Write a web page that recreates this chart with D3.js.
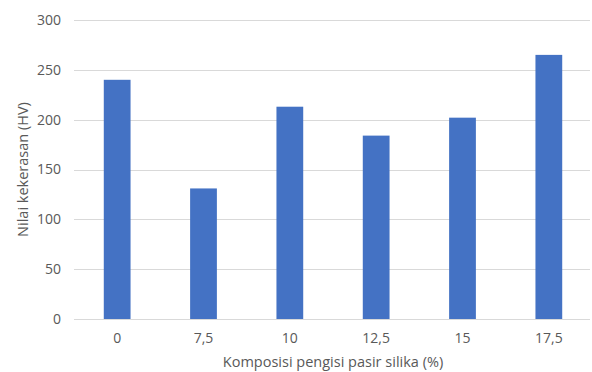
<!DOCTYPE html>
<html><head><meta charset="utf-8">
<script src="https://cdn.jsdelivr.net/npm/d3@7"></script>
<style>body{margin:0;background:#fff}</style>
</head><body>
<script>
const categories = ["0", "7,5", "10", "12,5", "15", "17,5"];
const values = [240, 131, 213, 184, 202, 265];
const yTicks = [0, 50, 100, 150, 200, 250, 300];
const xTitle = "Komposisi pengisi pasir silika (%)";
const yTitle = "Nilai kekerasan (HV)";

const W = 592, H = 372;
const m = {left: 74, right: 0, top: 20, bottom: 53};
const font = "'Open Sans', 'Noto Sans', sans-serif";
const svg = d3.select("body").append("svg").attr("width", W).attr("height", H);

const x = d3.scaleBand().domain(categories).range([m.left, W - m.right]).paddingInner(0.69).paddingOuter(0.345);
const y = d3.scaleLinear().domain([0, 300]).range([H - m.bottom, m.top]);

// gridlines
svg.append("g").selectAll("line").data(yTicks).join("line")
  .attr("x1", m.left).attr("x2", W - 2)
  .attr("y1", d => Math.round(y(d)) + 0.5).attr("y2", d => Math.round(y(d)) + 0.5)
  .attr("stroke", "#d9d9d9").attr("stroke-width", 1);

// y labels
svg.append("g").selectAll("text").data(yTicks).join("text")
  .attr("x", 61).attr("y", d => y(d)).attr("dy", "0.35em")
  .attr("text-anchor", "end").attr("font-family", font).attr("font-size", 14)
  .attr("fill", "#595959").text(d => d);

// bars
svg.append("g").selectAll("rect").data(values).join("rect")
  .attr("x", (d, i) => x(categories[i]))
  .attr("width", x.bandwidth())
  .attr("y", d => y(d))
  .attr("height", d => y(0) - y(d))
  .attr("fill", "#4472c4");

// x labels
svg.append("g").selectAll("text").data(categories).join("text")
  .attr("x", d => x(d) + x.bandwidth() / 2).attr("y", 338).attr("dy", "0.35em")
  .attr("text-anchor", "middle").attr("font-family", font).attr("font-size", 14)
  .attr("fill", "#595959").text(d => d);

svg.append("text").attr("x", (m.left + W - m.right) / 2).attr("y", 362).attr("dy", "0.35em")
  .attr("text-anchor", "middle").attr("font-family", font).attr("font-size", 14.5)
  .attr("fill", "#595959").text(xTitle);

svg.append("text").attr("transform", `translate(23,${(y(0) + y(300)) / 2}) rotate(-90)`)
  .attr("dy", "0.35em").attr("text-anchor", "middle").attr("font-family", font).attr("font-size", 14.5)
  .attr("fill", "#595959").text(yTitle);
</script>
</body></html>
